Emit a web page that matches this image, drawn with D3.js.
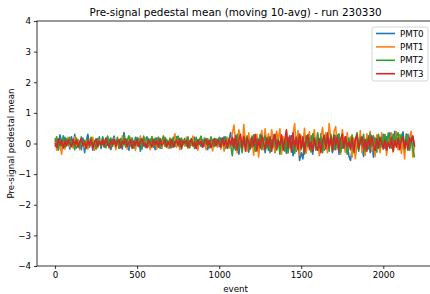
<!DOCTYPE html>
<html>
<head>
<meta charset="utf-8">
<script src="https://cdn.jsdelivr.net/npm/d3@7"></script>
<style>
  body { margin: 0; background: #fff; }
  text { font-family: "DejaVu Sans", sans-serif; fill: #000; }
</style>
</head>
<body>
<div id="plot"></div>
<script>
// moving 10-avg of pre-signal pedestal, read every 10 events
var step = 10;
var seriesNames = ["PMT0", "PMT1", "PMT2", "PMT3"];
var seriesColors = ["#1f77b4", "#ff7f0e", "#2ca02c", "#d62728"];

var pmt0 = [
  -0.10, 0.15, -0.22, 0.28, 0.05, -0.12, 0.20, -0.05, 0.10, -0.18,
  0.22, -0.08, 0.30, -0.15, 0.12, 0.02, -0.20, 0.18, -0.30, 0.08,
  0.30, -0.12, 0.18, -0.22, 0.06, 0.15, -0.10, 0.22, -0.16, 0.04,
  -0.12, 0.18, -0.06, 0.14, -0.20, 0.10, 0.24, -0.08, 0.12, -0.15,
  0.08, -0.18, 0.36, -0.05, 0.15, -0.22, 0.10, 0.02, -0.14, 0.20,
  -0.08, 0.16, -0.25, 0.12, 0.04, -0.12, 0.22, -0.10, 0.14, -0.06,
  0.10, -0.20, 0.18, -0.04, 0.12, -0.16, 0.08, 0.20, -0.12, 0.05,
  -0.15, 0.12, 0.02, -0.10, 0.22, -0.08, 0.14, -0.18, 0.06, 0.16,
  -0.06, 0.18, -0.14, 0.10, -0.02, 0.20, -0.16, 0.08, 0.14, -0.10,
  0.12, -0.08, 0.16, -0.20, 0.05, 0.18, -0.12, 0.10, -0.04, 0.14,
  -0.10, 0.18, -0.02, 0.22, -0.16, 0.06, 0.12, 0.36, -0.08, 0.15,
  -0.20, 0.25, -0.35, 0.10, -0.18, 0.30, -0.05, 0.18, -0.28, 0.12,
  0.22, -0.15, 0.30, -0.25, 0.08, 0.26, -0.12, 0.18, -0.30, 0.14,
  -0.22, 0.16, -0.08, 0.28, -0.30, 0.12, 0.05, -0.20, 0.24, -0.15,
  0.10, -0.32, 0.20, -0.12, 0.26, -0.40, 0.08, -0.25, 0.15, -0.55,
  -0.30, -0.50, 0.05, -0.22, 0.18, -0.10, 0.25, -0.35, 0.12, -0.15,
  0.20, -0.28, 0.32, 0.05, -0.22, 0.15, 0.35, -0.10, 0.22, -0.30,
  0.12, -0.20, 0.28, -0.35, 0.10, -0.15, 0.22, -0.28, 0.05, -0.40,
  -0.55, -0.20, 0.15, -0.38, 0.08, -0.25, 0.20, -0.10, -0.42, 0.12,
  -0.18, 0.25, -0.30, 0.10, -0.45, 0.18, -0.12, 0.28, -0.22, 0.05,
  0.30, -0.15, 0.22, -0.08, 0.35, 0.10, -0.20, 0.40, 0.15, -0.10,
  0.28, 0.05, 0.38, -0.12, 0.20, 0.30, -0.18, 0.15, 0.22, -0.10
];

var pmt1 = [
  0.18, -0.22, 0.10, -0.05, -0.35, 0.15, -0.18, 0.08, 0.20, -0.10,
  0.05, -0.15, 0.22, -0.08, 0.12, -0.20, 0.16, 0.02, -0.12, 0.10,
  -0.18, 0.14, -0.06, 0.20, -0.22, 0.08, -0.14, 0.12, -0.04, 0.18,
  -0.10, 0.06, 0.22, -0.16, 0.10, -0.08, 0.18, -0.20, 0.04, 0.14,
  -0.12, 0.25, -0.05, 0.12, -0.18, 0.08, 0.20, -0.14, 0.06, -0.22,
  0.15, -0.08, 0.24, -0.16, 0.10, 0.18, -0.12, 0.05, -0.20, 0.22,
  -0.06, 0.12, -0.18, 0.20, 0.04, -0.14, 0.26, -0.10, 0.08, -0.16,
  0.18, -0.04, 0.10, 0.32, -0.12, 0.16, -0.20, 0.06, 0.12, -0.08,
  0.20, -0.16, 0.08, -0.06, 0.24, -0.12, 0.14, -0.22, 0.06, 0.18,
  -0.10, 0.12, -0.20, 0.16, -0.04, 0.10, -0.24, 0.14, 0.06, -0.12,
  0.15, -0.18, 0.08, -0.25, 0.12, 0.20, -0.15, 0.05, 0.30, 0.60,
  0.10, -0.30, 0.45, 0.20, -0.20, 0.62, 0.05, -0.25, 0.35, -0.10,
  0.25, -0.38, 0.15, 0.30, -0.45, 0.10, 0.42, -0.20, 0.48, -0.05,
  0.32, -0.15, 0.45, 0.05, -0.28, 0.40, 0.12, 0.48, -0.35, 0.22,
  -0.10, 0.38, -0.30, 0.20, -0.15, 0.30, 0.65, -0.20, 0.42, -0.38,
  0.25, -0.10, 0.50, -0.32, 0.15, 0.38, -0.25, 0.10, 0.45, -0.18,
  0.30, -0.40, 0.20, 0.52, -0.15, 0.35, -0.30, 0.65, 0.18, -0.22,
  0.40, 0.55, -0.18, 0.28, -0.35, 0.45, 0.10, -0.28, 0.36, -0.12,
  0.22, -0.45, 0.18, -0.50, 0.30, -0.20, 0.42, -0.30, 0.15, -0.38,
  0.32, -0.10, 0.40, -0.25, 0.20, -0.42, 0.28, 0.05, -0.30, 0.35,
  -0.15, 0.30, -0.38, 0.20, -0.10, 0.35, -0.28, 0.12, 0.38, -0.20,
  0.25, -0.32, 0.10, -0.50, 0.32, -0.15, 0.20, 0.40, -0.45, -0.05
];

var pmt2 = [
  0.05, 0.22, -0.18, 0.10, -0.08, 0.25, -0.12, 0.15, -0.05, 0.20,
  -0.10, 0.12, -0.20, 0.18, 0.02, -0.14, 0.22, -0.06, 0.10, -0.16,
  0.14, -0.08, 0.20, -0.12, 0.06, -0.18, 0.16, 0.02, -0.10, 0.22,
  0.08, -0.14, 0.24, -0.06, 0.18, -0.10, 0.12, -0.04, 0.20, -0.16,
  0.16, -0.06, 0.22, -0.12, 0.10, 0.25, -0.08, 0.18, -0.14, 0.06,
  0.20, -0.10, 0.14, -0.18, 0.24, 0.02, -0.12, 0.16, -0.06, 0.22,
  -0.12, 0.18, -0.04, 0.20, -0.16, 0.10, 0.22, -0.08, 0.14, -0.02,
  0.16, -0.14, 0.20, -0.06, 0.12, 0.24, -0.10, 0.18, -0.04, 0.10,
  -0.08, 0.22, -0.12, 0.16, 0.04, -0.16, 0.20, -0.06, 0.12, 0.24,
  -0.10, 0.18, -0.02, 0.14, -0.14, 0.22, 0.06, -0.10, 0.16, -0.04,
  0.20, -0.12, 0.14, -0.08, 0.22, -0.16, 0.10, -0.05, -0.40, 0.15,
  -0.22, 0.30, -0.15, 0.10, -0.30, 0.22, -0.08, 0.25, -0.20, 0.12,
  -0.12, 0.28, -0.25, 0.15, -0.05, 0.30, -0.20, 0.08, 0.25, -0.15,
  0.20, -0.30, 0.12, -0.10, 0.28, -0.22, 0.15, -0.35, 0.18, 0.05,
  -0.25, 0.15, -0.30, 0.22, -0.12, 0.10, -0.32, 0.20, -0.15, 0.30,
  -0.20, 0.08, -0.35, 0.25, -0.10, 0.18, -0.28, 0.32, 0.05, -0.22,
  0.35, -0.15, 0.20, -0.30, 0.28, -0.08, 0.15, -0.25, 0.30, 0.10,
  -0.20, 0.25, -0.12, 0.32, -0.28, 0.15, -0.05, 0.22, -0.35, 0.18,
  -0.15, 0.28, -0.30, 0.12, 0.35, -0.20, 0.20, -0.08, 0.30, -0.25,
  0.15, -0.18, 0.32, -0.10, 0.25, 0.05, -0.28, 0.30, -0.12, 0.20,
  -0.05, 0.28, -0.22, 0.34, 0.12, -0.15, 0.30, -0.08, 0.25, 0.35,
  -0.10, 0.30, 0.15, -0.18, 0.28, 0.05, -0.22, 0.20, -0.15, -0.45
];

var pmt3 = [
  0.02, -0.12, 0.15, -0.05, 0.10, -0.15, 0.08, -0.08, 0.12, 0.00,
  -0.10, 0.14, -0.04, 0.10, -0.12, 0.06, 0.16, -0.08, 0.04, -0.14,
  0.10, -0.06, 0.12, -0.16, 0.02, 0.14, -0.10, 0.08, -0.04, 0.12,
  -0.08, 0.16, 0.00, -0.12, 0.10, -0.04, 0.14, -0.10, 0.06, 0.12,
  -0.14, 0.08, -0.02, 0.15, -0.10, 0.04, 0.12, -0.16, 0.08, -0.06,
  0.12, -0.10, 0.06, 0.16, -0.08, 0.02, -0.14, 0.10, 0.04, -0.12,
  0.14, -0.04, 0.08, -0.12, 0.16, -0.06, 0.02, 0.12, -0.10, 0.06,
  -0.08, 0.14, -0.12, 0.04, 0.10, -0.06, 0.16, -0.14, 0.08, 0.02,
  0.10, -0.12, 0.06, 0.14, -0.08, 0.04, -0.16, 0.12, -0.02, 0.08,
  -0.12, 0.06, 0.14, -0.06, 0.10, -0.14, 0.04, 0.16, -0.08, 0.12,
  0.02, -0.10, 0.18, -0.06, 0.10, -0.12, 0.15, -0.05, 0.20, -0.15,
  0.25, -0.20, 0.10, 0.30, -0.15, 0.22, -0.25, 0.18, 0.05, -0.18,
  0.20, -0.08, 0.28, -0.22, 0.12, -0.15, 0.25, 0.02, -0.20, 0.18,
  -0.10, 0.22, -0.25, 0.15, 0.30, -0.18, 0.10, -0.05, 0.28, -0.22,
  0.12, 0.45, -0.15, 0.25, -0.28, 0.35, -0.10, 0.20, -0.20, 0.30,
  -0.15, 0.22, -0.28, 0.10, 0.28, -0.20, 0.05, -0.25, 0.18, -0.08,
  -0.22, 0.15, -0.30, 0.08, 0.25, -0.18, 0.32, -0.12, 0.20, -0.25,
  0.28, -0.05, 0.20, -0.22, 0.15, 0.30, -0.15, 0.22, -0.10, 0.05,
  -0.20, 0.18, -0.25, 0.10, 0.28, -0.15, 0.05, 0.22, -0.18, 0.12,
  -0.25, 0.20, -0.10, 0.25, -0.05, -0.22, 0.15, -0.15, 0.20, 0.02,
  -0.18, 0.12, -0.22, 0.05, -0.15, 0.20, -0.25, 0.10, -0.12, 0.18,
  -0.20, 0.08, 0.22, -0.15, 0.10, -0.22, 0.18, 0.05, 0.25, -0.10
];

var xTicks = [0, 500, 1000, 1500, 2000];
var yTicks = [-4, -3, -2, -1, 0, 1, 2, 3, 4];

var W = 430, H = 294;
var margin = { top: 21, right: -4, bottom: 28, left: 37 };
var width = W - margin.left - margin.right,
    height = H - margin.top - margin.bottom;

var svg = d3.select("#plot").append("svg")
    .attr("width", W)
    .attr("height", H);

var g = svg.append("g")
    .attr("transform", "translate(" + margin.left + "," + margin.top + ")");

var x = d3.scaleLinear().domain([-110, 2309]).range([0, width]);
var y = d3.scaleLinear().domain([-4, 4]).range([height, 0]);

var line = d3.line()
    .x(function(d, i) { return x(i * step); })
    .y(function(d) { return y(d); });

var allSeries = [pmt0, pmt1, pmt2, pmt3];

g.selectAll(".series")
    .data(allSeries)
  .enter().append("path")
    .attr("class", "series")
    .attr("fill", "none")
    .attr("stroke", function(d, i) { return seriesColors[i]; })
    .attr("stroke-width", 1.6)
    .attr("stroke-linejoin", "round")
    .attr("d", line);

// axes, matplotlib look
var xAxis = d3.axisBottom(x).tickValues(xTicks).tickSize(3).tickPadding(3)
    .tickFormat(d3.format("d"));
var yAxis = d3.axisLeft(y).tickValues(yTicks).tickSize(3).tickPadding(3)
    .tickFormat(function(d) { return d < 0 ? "\u2212" + Math.abs(d) : d; });

var gX = g.append("g")
    .attr("transform", "translate(0," + height + ")")
    .call(xAxis);
var gY = g.append("g").call(yAxis);

[gX, gY].forEach(function(ax) {
  ax.select(".domain").remove();
  ax.selectAll("line").attr("stroke", "#000").attr("stroke-width", 0.8);
  ax.selectAll("text").style("font-size", "8.7px").attr("fill", "#000");
});

// frame
g.append("rect")
    .attr("width", width)
    .attr("height", height)
    .attr("fill", "none")
    .attr("stroke", "#000")
    .attr("stroke-width", 0.8);

svg.append("text")
    .attr("x", margin.left + x(1100))
    .attr("y", 16)
    .style("text-anchor", "middle")
    .style("font-size", "10.4px")
    .text("Pre-signal pedestal mean (moving 10-avg) - run 230330");

svg.append("text")
    .attr("x", margin.left + x(1100))
    .attr("y", 292)
    .style("text-anchor", "middle")
    .style("font-size", "8.7px")
    .text("event");

svg.append("text")
    .attr("transform", "translate(14," + (margin.top + height / 2) + ") rotate(-90)")
    .style("text-anchor", "middle")
    .style("font-size", "8.7px")
    .text("Pre-signal pedestal mean");

// legend
var lg = svg.append("g").attr("transform", "translate(372,27)");
lg.append("rect")
    .attr("width", 56)
    .attr("height", 54)
    .attr("rx", 2)
    .attr("fill", "#fff")
    .attr("fill-opacity", 0.8)
    .attr("stroke", "#ccc")
    .attr("stroke-width", 0.8);

var item = lg.selectAll(".legend")
    .data(seriesNames)
  .enter().append("g")
    .attr("class", "legend")
    .attr("transform", function(d, i) { return "translate(0," + (6.5 + i * 13.4) + ")"; });

item.append("line")
    .attr("x1", 4).attr("x2", 23)
    .attr("stroke", function(d, i) { return seriesColors[i]; })
    .attr("stroke-width", 1.6);

item.append("text")
    .attr("x", 28)
    .attr("dy", "0.35em")
    .style("font-size", "8.7px")
    .text(function(d) { return d; });
</script>
</body>
</html>
